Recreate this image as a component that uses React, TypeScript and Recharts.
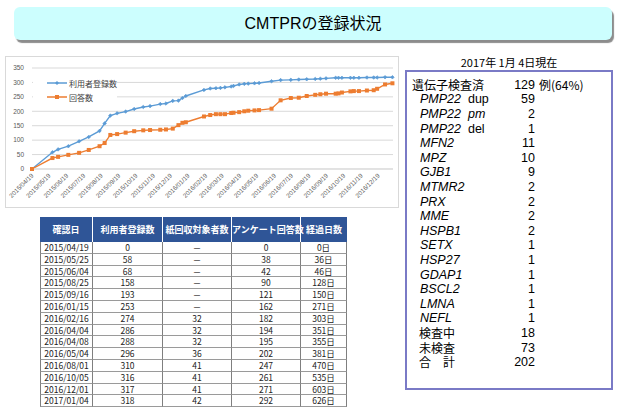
import React from "react";
import { LineChart, Line, XAxis, YAxis, CartesianGrid } from "recharts";

// ---- chart data ----
const pointDates = [
  "2015/04/19","2015/05/25","2015/06/04","2015/06/22","2015/07/11","2015/07/28","2015/08/16","2015/08/25",
  "2015/09/04","2015/09/16","2015/10/01","2015/10/16","2015/11/01","2015/11/13","2015/12/01","2015/12/11",
  "2015/12/23","2016/01/02","2016/01/09","2016/01/15","2016/02/16","2016/02/27","2016/03/08","2016/03/16",
  "2016/03/24","2016/04/04","2016/04/08","2016/04/18","2016/04/27","2016/05/04","2016/05/15","2016/05/23",
  "2016/06/14","2016/06/30","2016/07/18","2016/08/01","2016/08/15","2016/08/30","2016/09/08","2016/09/18",
  "2016/10/05","2016/10/10","2016/10/16","2016/10/31","2016/11/06","2016/11/15","2016/11/29","2016/12/11",
  "2016/12/17","2016/12/31","2017/01/13",
];
const registered = [
  0,58,68,79,96,111,132,158,
  185,193,199,208,215,218,225,227,
  236,237,246,253,274,279,280,281,
  283,286,288,293,295,296,297,298,
  304,308,309,310,311,312,313,314,
  316,316,316,316,316,316,317,317,
  317,318,318,
];
const answered = [
  0,38,42,49,56,66,79,90,
  118,121,126,131,134,135,136,137,
  140,152,160,162,182,187,190,190,
  190,194,195,197,200,202,203,204,
  209,238,246,247,253,257,259,261,
  261,262,265,269,270,270,272,273,
  278,293,297,
];
const seriesNames = ["利用者登録数", "回答数"];
const xTickLabels = [
  "2015/04/19","2015/05/19","2015/06/19","2015/07/19","2015/08/19","2015/09/19","2015/10/19",
  "2015/11/19","2015/12/19","2016/01/19","2016/02/19","2016/03/19","2016/04/19","2016/05/19",
  "2016/06/19","2016/07/19","2016/08/19","2016/09/19","2016/10/19","2016/11/19","2016/12/19",
];
const yTicks = [0, 50, 100, 150, 200, 250, 300, 350];
const xEndDate = "2017/01/14";

// ---- table data ----
const tableHeaders = ["確認日", "利用者登録数", "紙回収対象者数", "アンケート回答数", "経過日数"];
const tableDates = ["2015/04/19","2015/05/25","2015/06/04","2015/08/25","2015/09/16","2016/01/15","2016/02/16","2016/04/04","2016/04/08","2016/05/04","2016/08/01","2016/10/05","2016/12/01","2017/01/04"];
const tableRegistered = [0,58,68,158,193,253,274,286,288,296,310,316,317,318];
const tablePaper = ["－","－","－","－","－","－","32","32","32","36","41","41","41","42"];
const tableAnswered = [0,38,42,90,121,162,182,194,195,202,247,261,271,292];
const tableElapsed = ["0日","36日","46日","128日","150日","271日","303日","351日","355日","381日","470日","535日","603日","626日"];

// ---- gene panel data ----
const title = "CMTPRの登録状況";
const asOf = "2017年 1月 4日現在";
const testedLabel = "遺伝子検査済";
const testedCount = "129";
const testedNote = "例(64%)";
const geneNames = ["PMP22","PMP22","PMP22","MFN2","MPZ","GJB1","MTMR2","PRX","MME","HSPB1","SETX","HSP27","GDAP1","BSCL2","LMNA","NEFL"];
const geneSuffix = ["dup","pm","del","","","","","","","","","","","","",""];
const geneCounts = [59,2,1,11,10,9,2,2,2,2,1,1,1,1,1,1];
const statusLabels = ["検査中", "未検査", "合　計"];
const statusCounts = [18, 73, 202];

// ---- helpers ----
const toDay = (s: string) => {
  const [y, m, d] = s.split("/").map(Number);
  const [y0, m0, d0] = pointDates[0].split("/").map(Number);
  return Math.round((Date.UTC(y, m - 1, d) - Date.UTC(y0, m0 - 1, d0)) / 86400000);
};
const chartData = pointDates.map((d, i) => ({ day: toDay(d), reg: registered[i], ans: answered[i] }));
const xTicks = xTickLabels.map(toDay);
const labelByDay: Record<number, string> = {};
xTickLabels.forEach((l) => (labelByDay[toDay(l)] = l));

const BLUE = "#5b9bd5";
const ORANGE = "#ed7d31";
const JP = "'Liberation Sans', 'Noto Sans CJK JP', sans-serif";
const CJK = "'Noto Sans CJK JP', sans-serif";

const XTick = (props: any) => {
  const { x, y, payload } = props;
  const tx = x + 2;
  const ty = y + 3;
  return (
    <text x={tx} y={ty} transform={`rotate(-45 ${tx} ${ty})`} textAnchor="end" fontSize={6.3} fill="#595959" fontFamily={JP}>
      {labelByDay[payload.value]}
    </text>
  );
};

const BlueDot = (props: any) => {
  const { cx, cy } = props;
  if (cx == null || cy == null) return null;
  return <path d={`M${cx - 1.8},${cy} L${cx},${cy - 1.8} L${cx + 1.8},${cy} L${cx},${cy + 1.8} Z`} fill={BLUE} stroke={BLUE} strokeWidth={0.6} />;
};
const OrangeDot = (props: any) => {
  const { cx, cy } = props;
  if (cx == null || cy == null) return null;
  return <rect x={cx - 2} y={cy - 2} width={4} height={4} fill={ORANGE} />;
};

const LegendBox = () => (
  <div style={{ position: "absolute", left: 33, top: 75, background: "#fff", width: 84, height: 30, fontFamily: JP }}>
    {[0, 1].map((i) => (
      <div key={i} style={{ position: "absolute", left: 14, top: 2 + i * 14, height: 12, display: "flex", alignItems: "center" }}>
        <svg width={20} height={10} style={{ display: "block" }}>
          <line x1={0} y1={5} x2={20} y2={5} stroke={i === 0 ? BLUE : ORANGE} strokeWidth={1.5} />
          {i === 0 ? <path d="M8,5 L10,3 L12,5 L10,7 Z" fill={BLUE} /> : <rect x={8} y={3} width={4} height={4} fill={ORANGE} />}
        </svg>
        <span style={{ fontSize: 8, color: "#404040", marginLeft: 2, whiteSpace: "nowrap", fontFamily: CJK }}>{seriesNames[i]}</span>
      </div>
    ))}
  </div>
);

export default function App() {
  const colW = [53, 70, 69, 69, 46];
  const colX = colW.map((_, i) => colW.slice(0, i).reduce((a, b) => a + b, 0));
  const rowH = 11.8;
  const headH = 25;
  const rowTop0 = 5.7;
  const rowStep = 14.6;

  const panelRows: { name: React.ReactNode; count: string; left: number; note?: string }[] = [];
  panelRows.push({ name: <span style={{ fontFamily: CJK, fontSize: 12 }}>{testedLabel}</span>, count: testedCount, left: 5, note: testedNote });
  geneNames.forEach((g, i) => {
    panelRows.push({
      name: (
        <span>
          <i>{g}</i>
          {geneSuffix[i] ? <span style={{ fontStyle: geneSuffix[i] === "pm" ? "italic" : "normal" }}>&nbsp;&nbsp;{geneSuffix[i]}</span> : null}
        </span>
      ),
      count: String(geneCounts[i]),
      left: 13,
    });
  });
  statusLabels.forEach((s, i) => {
    panelRows.push({ name: <span style={{ fontFamily: CJK, fontSize: 12 }}>{s}</span>, count: String(statusCounts[i]), left: 12 });
  });

  return (
    <div style={{ position: "absolute", left: 0, top: 0, width: 621, height: 408, background: "#fff", overflow: "hidden", fontFamily: JP }}>
      {/* title */}
      <div style={{ position: "absolute", left: 14, top: 7, width: 598, height: 33, background: "#ccfefe", borderRadius: 6, boxShadow: "2px 3px 1px #8c8c8c" }} />
      <div style={{ position: "absolute", left: 14, top: 7, width: 598, height: 33, lineHeight: "33px", textAlign: "center", fontSize: 16, color: "#000" }}>
        {title}
      </div>

      {/* chart */}
      <div style={{ position: "absolute", left: 5, top: 56, width: 392, height: 150, border: "1px solid #d9d9d9" }} />
      <div style={{ position: "absolute", left: 6, top: 57 }}>
        <LineChart width={392} height={150} data={chartData} margin={{ top: 11, right: 5, left: 0, bottom: 0 }}>
          <CartesianGrid vertical={false} stroke="#d9d9d9" strokeWidth={1} />
          <XAxis
            dataKey="day"
            type="number"
            domain={[0, toDay(xEndDate)]}
            ticks={xTicks}
            tick={<XTick />}
            tickLine={false}
            tickSize={2}
            interval={0}
            height={38}
            axisLine={{ stroke: "#d9d9d9" }}
          />
          <YAxis
            domain={[0, 350]}
            ticks={yTicks}
            width={26}
            axisLine={false}
            tickLine={false}
            tickMargin={2}
            tick={{ fontSize: 6.5, fill: "#595959", fontFamily: JP }}
            interval={0}
          />
          <Line type="linear" dataKey="reg" name={seriesNames[0]} stroke={BLUE} strokeWidth={1.4} dot={<BlueDot />} isAnimationActive={false} />
          <Line type="linear" dataKey="ans" name={seriesNames[1]} stroke={ORANGE} strokeWidth={1.4} dot={<OrangeDot />} isAnimationActive={false} />
        </LineChart>
      </div>
      <LegendBox />

      {/* as-of date */}
      <div style={{ position: "absolute", left: 406, top: 54, width: 206, textAlign: "center", fontSize: 11, fontFamily: CJK, color: "#000" }}>
        {asOf}
      </div>

      {/* gene panel */}
      <div style={{ position: "absolute", left: 405, top: 70, width: 204, height: 316, border: "2px solid #7a7ac6" }}>
        {panelRows.map((r, i) => (
          <div key={i} style={{ position: "absolute", top: rowTop0 + i * rowStep, left: 0, width: 204, height: 14, lineHeight: "14px", fontSize: 12.5, color: "#000" }}>
            <div style={{ position: "absolute", left: r.left, top: 0, whiteSpace: "nowrap" }}>{r.name}</div>
            <div style={{ position: "absolute", right: 204 - 128, top: 0, textAlign: "right" }}>{r.count}</div>
            {r.note ? <div style={{ position: "absolute", left: 132, top: 0, whiteSpace: "nowrap", fontFamily: CJK, fontSize: 12 }}>{r.note}</div> : null}
          </div>
        ))}
      </div>

      {/* table */}
      <div style={{ position: "absolute", left: 40, top: 217, width: 307 }}>
        <div style={{ position: "absolute", left: 0, top: 0, width: 307, height: headH, background: "#2f5597" }} />
        {tableHeaders.map((h, c) => (
          <div key={h} style={{ position: "absolute", left: colX[c], top: 0, width: colW[c], height: headH, lineHeight: `${headH}px`, textAlign: "center", color: "#fff", fontWeight: 700, fontSize: 9, fontFamily: CJK, whiteSpace: "nowrap", borderRight: c < 4 ? "1px solid #ffffff" : "none", boxSizing: "border-box" }}>
            {h}
          </div>
        ))}
        {tableDates.map((d, r) => {
          const cells = [d, String(tableRegistered[r]), tablePaper[r], String(tableAnswered[r]), tableElapsed[r]];
          return cells.map((v, c) => (
            <div
              key={`${r}-${c}`}
              style={{
                position: "absolute",
                left: colX[c],
                top: headH + r * rowH,
                width: colW[c],
                height: rowH,
                lineHeight: `${rowH}px`,
                textAlign: "center",
                fontSize: 8.5,
                color: "#222",
                borderLeft: c === 0 ? "1px solid #7f7f7f" : "none",
                borderRight: "1px solid #7f7f7f",
                borderBottom: "1px solid #9a9a9a",
                boxSizing: "border-box",
                fontFamily: "'Noto Sans CJK JP', 'Liberation Sans', sans-serif",
              }}
            >
              {v}
            </div>
          ));
        })}
      </div>
    </div>
  );
}
